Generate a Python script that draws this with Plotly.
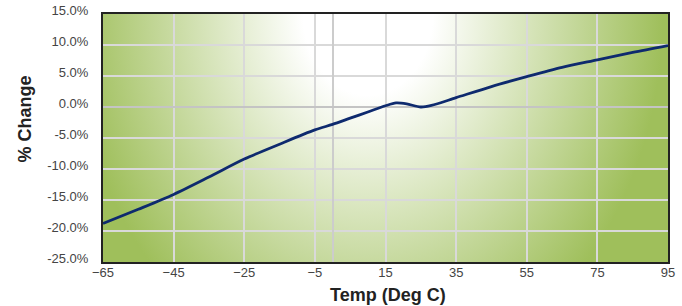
import base64
import plotly.graph_objects as go

# Data
temp_c = [-65, -55, -45, -35, -25, -15, -5, 0, 5, 10, 15, 18, 21, 25, 28, 35, 45, 55, 65, 75, 85, 95]
pct_change = [-18.8, -16.5, -14.1, -11.3, -8.4, -6.0, -3.7, -2.8, -1.8, -0.8, 0.2, 0.65, 0.5, 0.0, 0.25,
              1.5, 3.3, 4.9, 6.4, 7.6, 8.8, 9.9]
x_ticks = [-65, -45, -25, -5, 15, 35, 55, 75, 95]
y_ticks = [-25, -20, -15, -10, -5, 0, 5, 10, 15]
y_tick_labels = [f"{v:.1f}%" for v in y_ticks]

# Background radial gradient (white at top centre -> green at edges)
W, H = 565, 248
svg = f'''<svg xmlns="http://www.w3.org/2000/svg" width="{W}" height="{H}" viewBox="0 0 {W} {H}" preserveAspectRatio="none">
<defs>
<radialGradient id="g" gradientUnits="userSpaceOnUse" cx="265" cy="0" r="295"
 gradientTransform="translate(265 0) scale(1 1.25) translate(-265 0)">
<stop offset="0" stop-color="#ffffff"/>
<stop offset="0.22" stop-color="#ffffff"/>
<stop offset="1" stop-color="#9fbf5b"/>
</radialGradient>
</defs>
<rect x="0" y="0" width="{W}" height="{H}" fill="url(#g)"/>
</svg>'''
svg_uri = "data:image/svg+xml;base64," + base64.b64encode(svg.encode()).decode()

fig = go.Figure()
fig.add_trace(go.Scatter(
    x=temp_c, y=pct_change, mode="lines",
    line=dict(color="#0e2a6e", width=2.8, shape="spline", smoothing=0.8),
    hoverinfo="skip", showlegend=False,
))

fig.add_layout_image(dict(
    source=svg_uri, xref="paper", yref="paper", x=0, y=1, sizex=1, sizey=1,
    sizing="stretch", xanchor="left", yanchor="top", layer="below",
))

fig.update_layout(
    width=682, height=306,
    margin=dict(l=103, r=14, t=14, b=44, autoexpand=False),
    paper_bgcolor="white",
    plot_bgcolor="rgba(0,0,0,0)",
    font=dict(family="Liberation Sans, Arial, sans-serif", color="#444444", size=13),
    annotations=[
        dict(text="<b>% Change</b>", xref="paper", yref="paper", x=-0.138, y=0.575,
             textangle=-90, showarrow=False, font=dict(size=18, color="#222222"),
             xanchor="center", yanchor="middle"),
        dict(text="<b>Temp (Deg C)</b>", xref="paper", yref="paper", x=0.504, y=-0.133,
             showarrow=False, font=dict(size=18, color="#222222"),
             xanchor="center", yanchor="middle"),
    ],
)

fig.update_xaxes(
    range=[-65, 95], tickmode="array", tickvals=x_ticks, ticks="", automargin=False,
    showgrid=True, gridcolor="#d9d9d9", gridwidth=1.5,
    zeroline=True, zerolinecolor="#cccccc", zerolinewidth=2,
    showline=True, linecolor="#222222", linewidth=2, mirror=True,
    tickfont=dict(size=13, color="#444444"),
    ticklabelstandoff=-3, ticklabeloverflow="allow",
)
fig.update_yaxes(
    range=[-25, 15], tickmode="array", tickvals=y_ticks, ticktext=y_tick_labels, ticks="",
    automargin=False,
    showgrid=True, gridcolor="#d9d9d9", gridwidth=1.5,
    zeroline=True, zerolinecolor="#c4c4c4", zerolinewidth=2,
    showline=True, linecolor="#222222", linewidth=2, mirror=True,
    tickfont=dict(size=13, color="#444444"),
    ticklabelshift=-4, ticklabelstandoff=10, ticklabeloverflow="allow",
)

# remove the default 8px page margin so the figure sits at the window's top-left
fig.write_html("out.html", config={"displayModeBar": False},
               post_script="document.body.style.margin='0px';")
